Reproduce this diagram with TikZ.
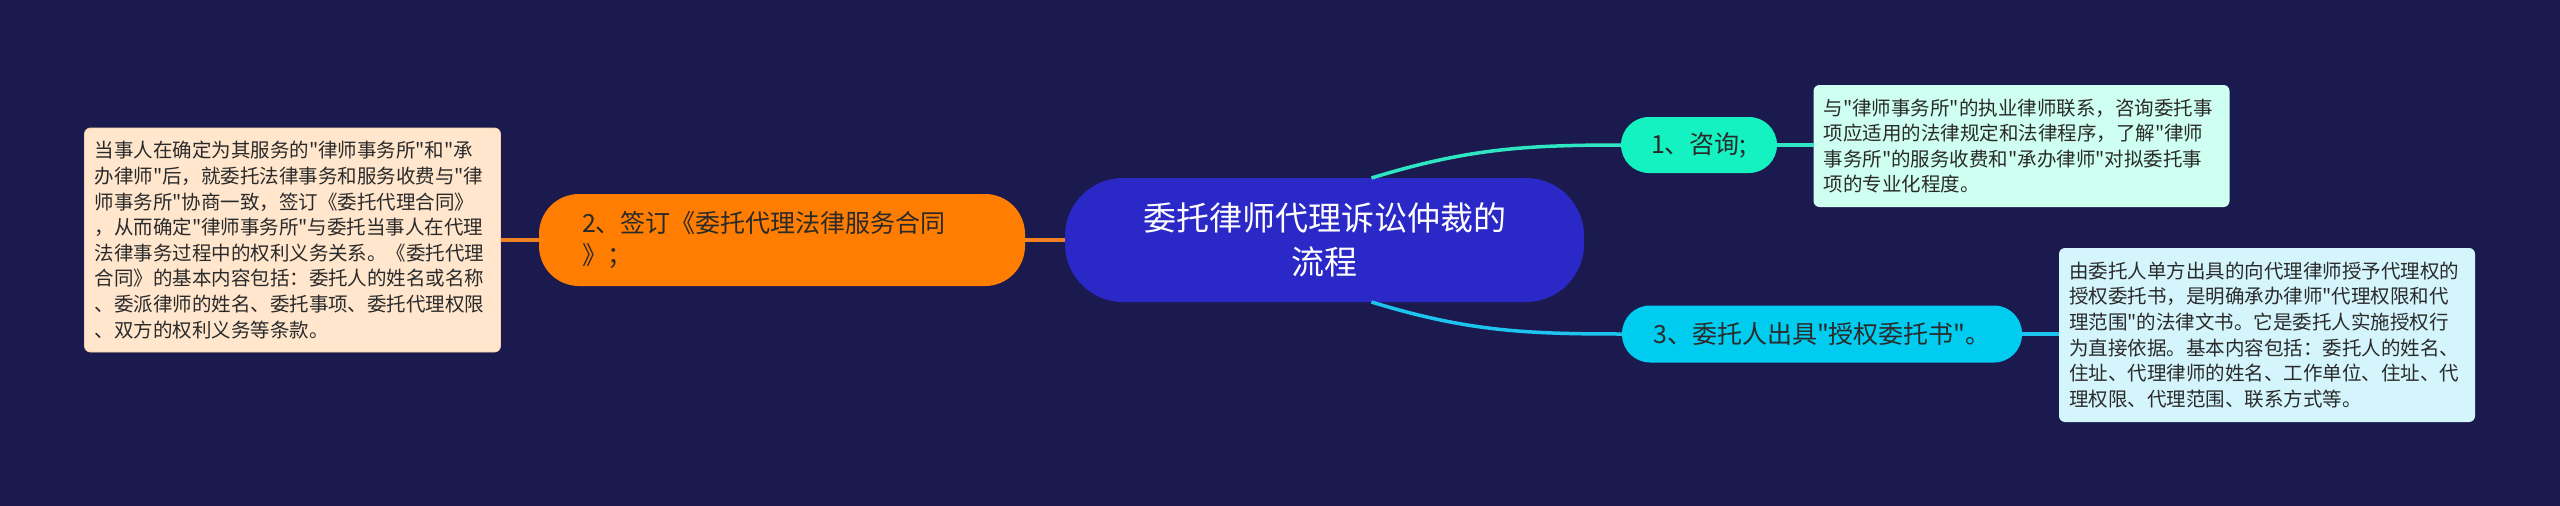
\documentclass[tikz,border=0pt]{standalone}
\usepackage{fontspec}
\newfontfamily\cjk{Noto Sans CJK SC}
\definecolor{cBg}{HTML}{1B1A4F}
\definecolor{cMain}{HTML}{2A28C6}
\definecolor{cOrange}{HTML}{FF7D00}
\definecolor{cOrangeLine}{HTML}{F08224}
\definecolor{cPeach}{HTML}{FFE6CD}
\definecolor{cMint}{HTML}{14F2C2}
\definecolor{cMintLine}{HTML}{2EE6C2}
\definecolor{cMintLight}{HTML}{CEFFF0}
\definecolor{cCyan}{HTML}{00CCF0}
\definecolor{cCyanLine}{HTML}{1EC4F0}
\definecolor{cCyanLight}{HTML}{D4F5FC}
\definecolor{cText}{HTML}{2A2A2A}
\begin{document}
\begin{tikzpicture}[x=1pt,y=-1pt,
  base/.style={inner sep=0pt, outer sep=0pt},
  mainbox/.style={base, fill=cMain, rounded corners=58pt, minimum width=519pt, minimum height=124pt, text=white, align=center, font=\cjk\fontsize{33}{44}\selectfont},
  topicbox/.style={base, rounded corners=#1, text=cText, font=\cjk\fontsize{25}{32}\selectfont},
  detailbox/.style={base, rounded corners=6pt, inner xsep=10pt, text width=396pt, align=left, text=cText, font=\cjk\fontsize{19.5}{25.6}\selectfont},
  link/.style={line width=3.5pt}
]
\useasboundingbox (0,0) rectangle (2560,506);
\fill[cBg] (0,0) rectangle (2560,506);

\node[mainbox] (center) at (1324.5,240) {委托律师代理诉讼仲裁的\\流程};

\node[topicbox=40pt, fill=cOrange, minimum width=486pt, minimum height=92pt, text width=400pt, align=left] (t2) at (782,240) {2、签订《委托代理法律服务合同\\》；};

\node[detailbox, fill=cPeach, draw=cOrangeLine!40, line width=0.8pt, minimum height=224pt] (d2) at (292.5,240) {当事人在确定为其服务的"律师事务所"和"承\\办律师"后，就委托法律事务和服务收费与"律\\师事务所"协商一致，签订《委托代理合同》\\，从而确定"律师事务所"与委托当事人在代理\\法律事务过程中的权利义务关系。《委托代理\\合同》的基本内容包括：委托人的姓名或名称\\、委派律师的姓名、委托事项、委托代理权限\\、双方的权利义务等条款。};

\node[topicbox=28pt, fill=cMint, minimum width=156pt, minimum height=56pt] (t1) at (1699,145) {1、咨询;};

\node[detailbox, fill=cMintLight, minimum height=122pt] (d1) at (2021.5,146) {与"律师事务所"的执业律师联系，咨询委托事\\项应适用的法律规定和法律程序，了解"律师\\事务所"的服务收费和"承办律师"对拟委托事\\项的专业化程度。};

\node[topicbox=28pt, fill=cCyan, minimum width=400pt, minimum height=57pt] (t3) at (1822,334) {3、委托人出具"授权委托书"。};

\node[detailbox, fill=cCyanLight, minimum height=174pt] (d3) at (2267,335) {由委托人单方出具的向代理律师授予代理权的\\授权委托书，是明确承办律师"代理权限和代\\理范围"的法律文书。它是委托人实施授权行\\为直接依据。基本内容包括：委托人的姓名、\\住址、代理律师的姓名、工作单位、住址、代\\理权限、代理范围、联系方式等。};

\draw[link, cMintLine] ([xshift=47pt]center.north) to[out=17,in=180] (t1.west);
\draw[link, cCyanLine] ([xshift=47pt]center.south) to[out=-17,in=180] (t3.west);
\draw[link, cOrangeLine] (center.west) -- (t2.east);
\draw[link, cOrangeLine] (t2.west) -- (d2.east);
\draw[link, cMintLine] (t1.east) -- (t1.east -| d1.west);
\draw[link, cCyanLine] (t3.east) -- (t3.east -| d3.west);
\end{tikzpicture}
\end{document}
